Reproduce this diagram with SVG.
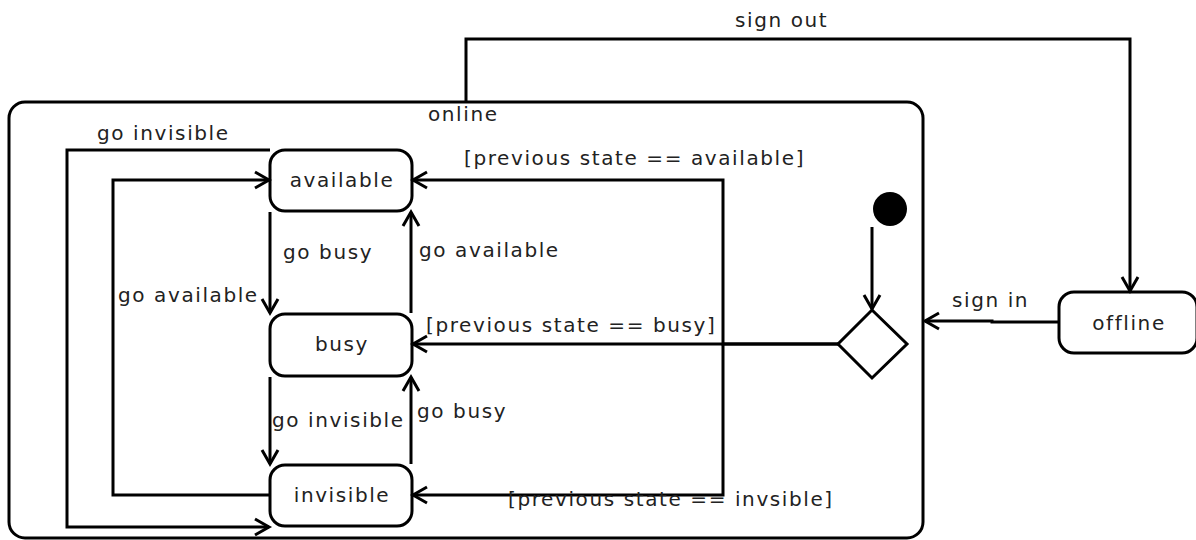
<svg xmlns="http://www.w3.org/2000/svg" width="1196" height="540" viewBox="0 0 1196 540">
<style>
  text { font-family: "DejaVu Sans", "Liberation Sans", sans-serif; font-size: 20px; letter-spacing: 1.6px; fill: #222; }
  .state { fill: #fff; stroke: #000; stroke-width: 3; }
  .edge { fill: none; stroke: #000; stroke-width: 3; }
  .mid { text-anchor: middle; }
</style>
<defs>
  <marker id="arr" markerUnits="userSpaceOnUse" markerWidth="20" markerHeight="20" viewBox="0 0 20 20" refX="16" refY="10" orient="auto">
    <path d="M2,2 L16,10 L2,18" fill="none" stroke="#000" stroke-width="3"/>
  </marker>
</defs>

<g id="online">
  <rect class="state" x="9" y="102" width="914" height="436" rx="16"/>
  <text x="428" y="121">online</text>
</g>

<g id="available">
  <rect class="state" x="270" y="150" width="142" height="61" rx="15"/>
  <text class="mid" x="342" y="187">available</text>
</g>
<g id="busy">
  <rect class="state" x="270" y="314" width="142" height="62" rx="15"/>
  <text class="mid" x="342" y="351">busy</text>
</g>
<g id="invisible">
  <rect class="state" x="270" y="465" width="142" height="61" rx="15"/>
  <text class="mid" x="342" y="502">invisible</text>
</g>
<g id="offline">
  <rect class="state" x="1059" y="292" width="138" height="61" rx="15"/>
  <text class="mid" x="1129" y="330">offline</text>
</g>
<g id="initial">
  <circle cx="890" cy="209" r="17" fill="#000"/>
</g>
<g id="choice">
  <polygon points="872,310 907,344 872,378 838,344" fill="#fff" stroke="#000" stroke-width="3"/>
</g>

<g id="connectors">
  <path class="edge" d="M466,102 V39 H1130 V291" marker-end="url(#arr)"/>
  <path class="edge" d="M1059,322 H992 V321 H925" marker-end="url(#arr)"/>
  <path class="edge" d="M872,227 V309" marker-end="url(#arr)"/>
  <path class="edge" d="M838,344 H413" marker-end="url(#arr)"/>
  <path class="edge" d="M838,344 H723 V180 H413" marker-end="url(#arr)"/>
  <path class="edge" d="M723,344 V495 H413" marker-end="url(#arr)"/>
  <path class="edge" d="M270,212 V313" marker-end="url(#arr)"/>
  <path class="edge" d="M411,313 V212" marker-end="url(#arr)"/>
  <path class="edge" d="M270,377 V464" marker-end="url(#arr)"/>
  <path class="edge" d="M411,464 V377" marker-end="url(#arr)"/>
  <path class="edge" d="M270,495 H113 V180 H269" marker-end="url(#arr)"/>
  <path class="edge" d="M270,150 H67 V527 H269" marker-end="url(#arr)"/>
</g>

<g id="labels">
  <text x="735" y="27">sign out</text>
  <text x="952" y="307">sign in</text>
  <text x="97" y="140">go invisible</text>
  <text x="464" y="165">[previous state == available]</text>
  <text x="283" y="259">go busy</text>
  <text x="419" y="257">go available</text>
  <text x="118" y="302">go available</text>
  <text x="426" y="332">[previous state == busy]</text>
  <text x="272" y="427">go invisible</text>
  <text x="417" y="418">go busy</text>
  <text x="508" y="506">[previous state == invsible]</text>
</g>
</svg>
